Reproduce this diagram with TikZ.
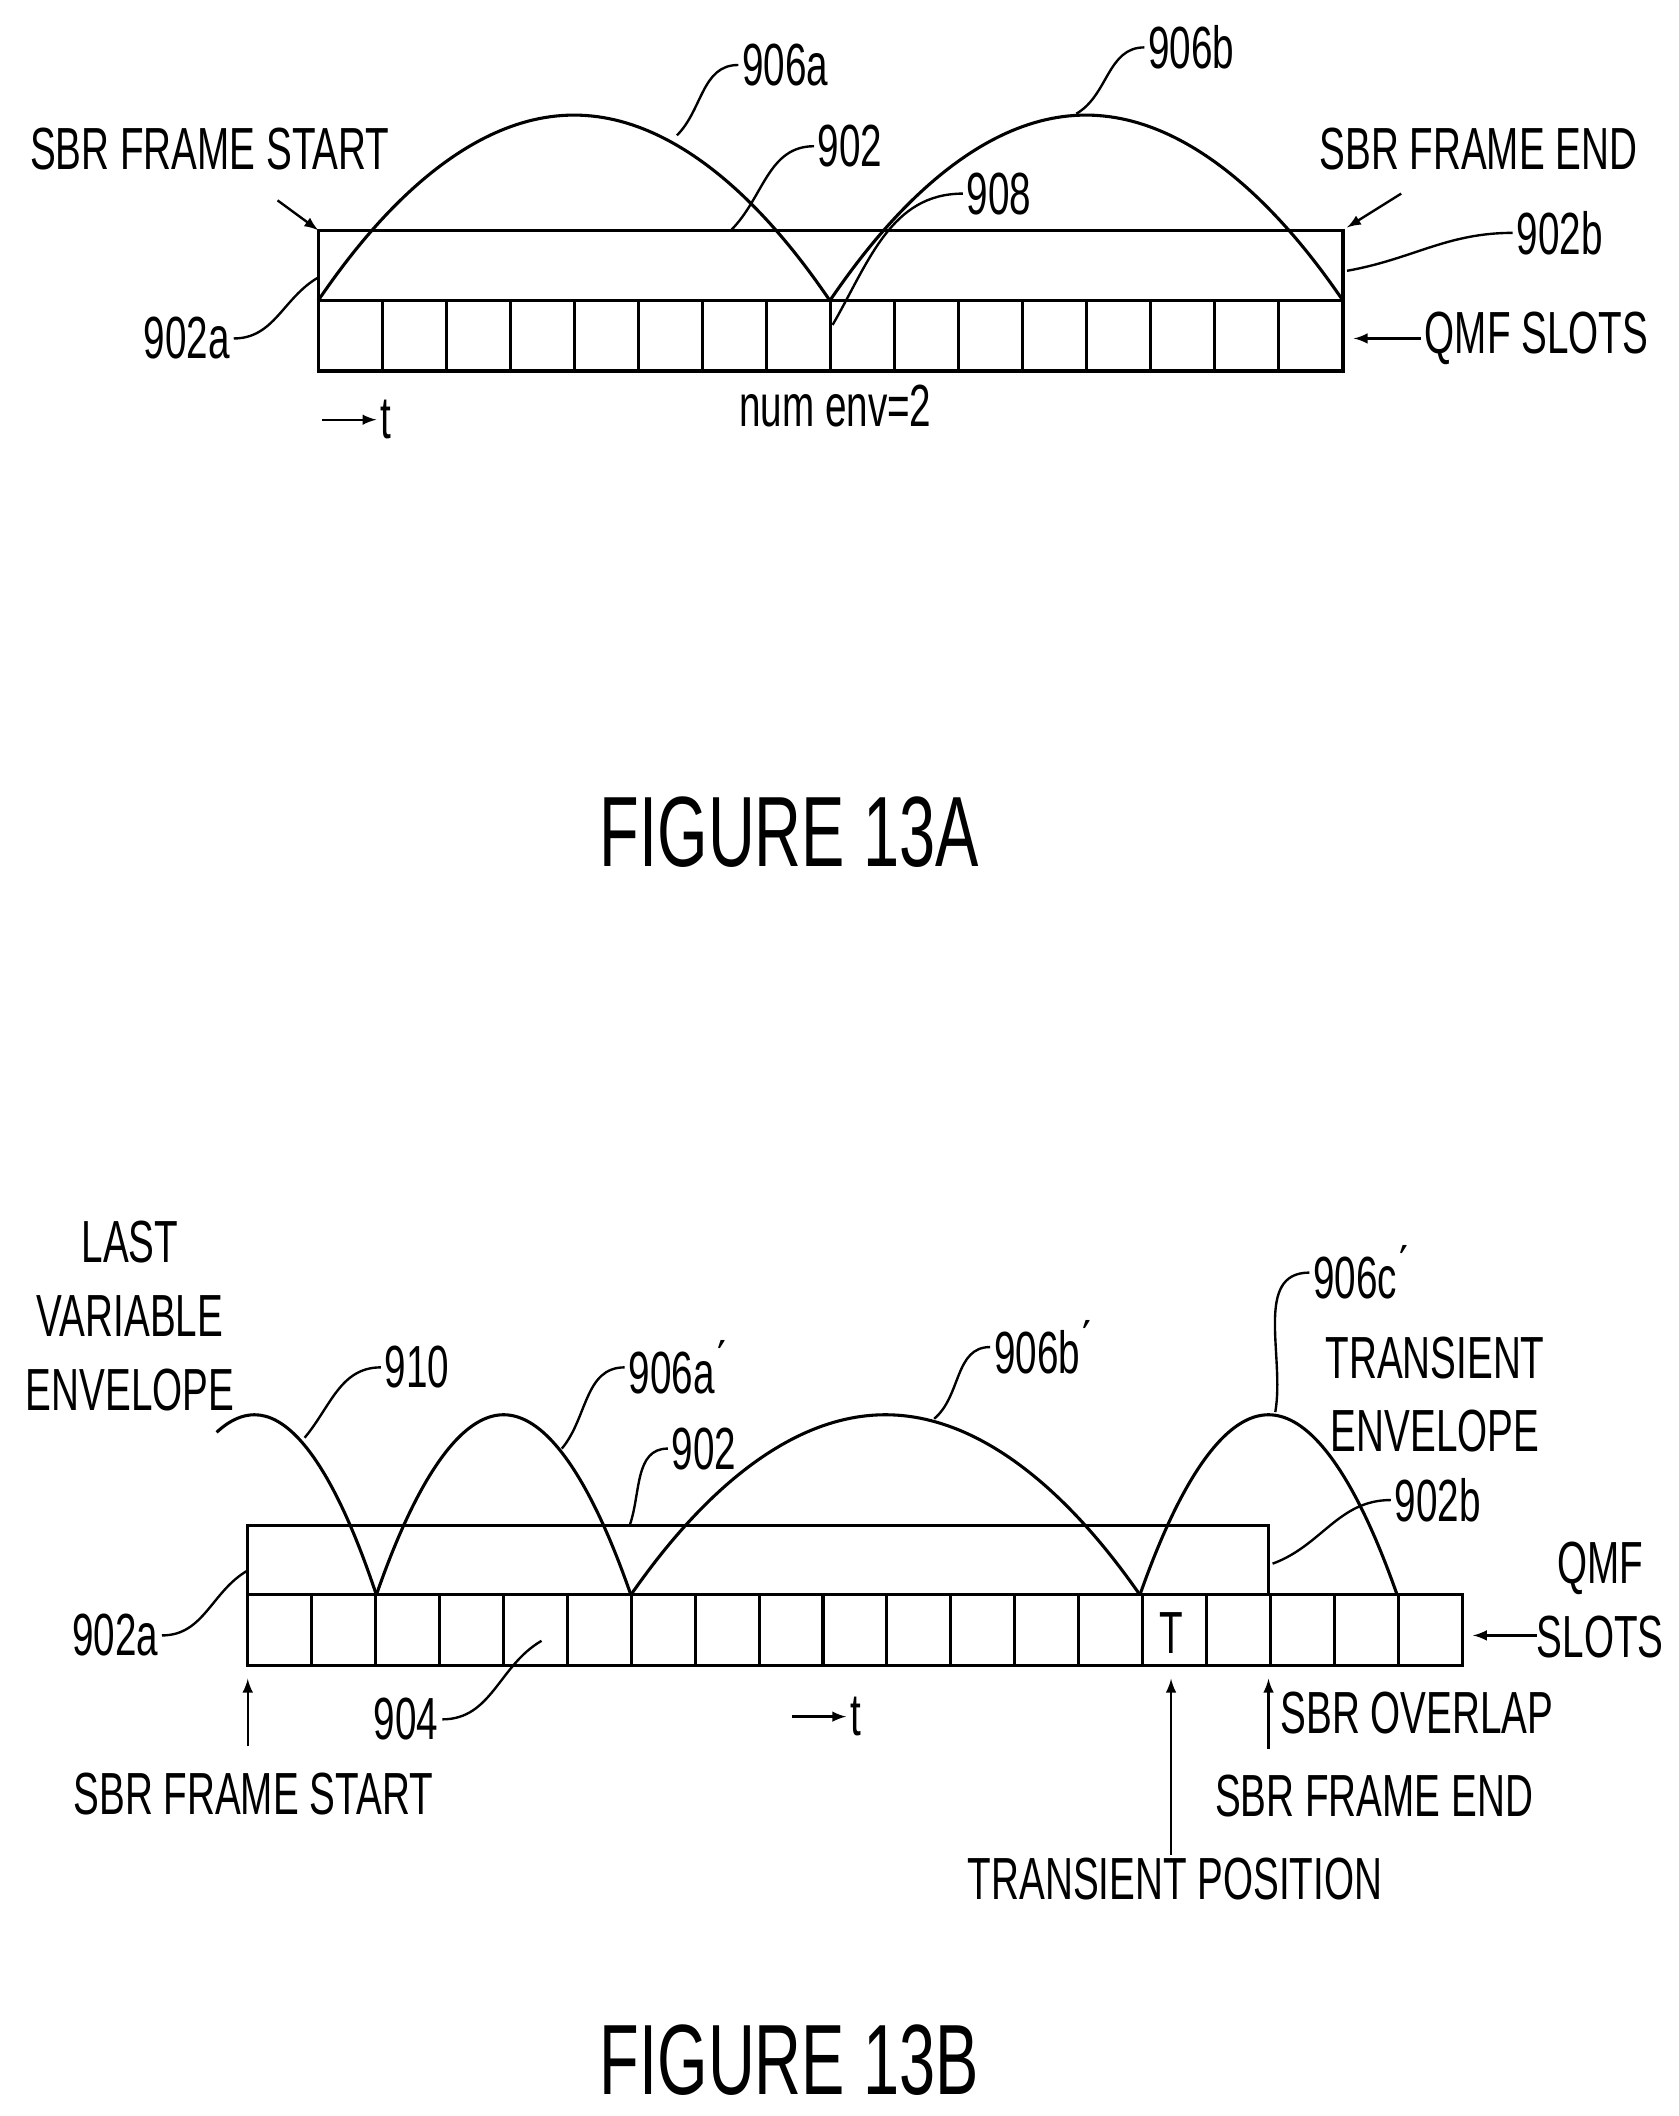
\documentclass[tikz,border=0pt]{standalone}
\usepackage{fontspec}
\setmainfont{Liberation Sans}[FakeStretch=0.65]
\begin{document}
\begin{tikzpicture}[x=0.02cm,y=-0.02cm,line width=1.3pt,
 lbl/.style={font=\fontsize{25}{31}\selectfont,inner sep=1pt,align=center},
 ttl/.style={font=\fontsize{42}{46}\selectfont},
 lead/.style={line width=1pt},
 arr/.style={line width=1pt,-{latex[scale=1.3]}}]
\useasboundingbox (0,0) rectangle (1240,1563);
% ---------- 13A
\draw (235,170) rectangle (992,222);
\draw (235,222) rectangle (992,274);
\foreach \i in {1,...,15} \draw (235+\i*47.3125,222) -- (235+\i*47.3125,274);
\draw (235,222) parabola bend (424,85) (613,222);
\draw (613,222) parabola bend (802,85) (992,222);
\node[lbl] (fs) at (155,110) {SBR FRAME START};
\draw[arr] (205,148) -- (235,170);
\node[lbl] (fe) at (1092,110) {SBR FRAME END};
\draw[arr] (1035,143) -- (995,168);
\node[lbl] (a906a) at (580,48) {906a};
\draw[lead] (a906a.west) to[out=180,in=45] (500,100);
\node[lbl] (a906b) at (880,35) {906b};
\draw[lead] (a906b.west) to[out=180,in=30] (795,84);
\node[lbl] (a902) at (628,108) {902};
\draw[lead] (a902.west) to[out=180,in=45] (540,170);
\node[lbl] (a908) at (738,143) {908};
\draw[lead] (a908.west) to[out=180,in=60] (615,240);
\node[lbl] (a902b) at (1152,172) {902b};
\draw[lead] (a902b.west) to[out=180,in=10] (995,200);
\node[lbl] (a902a) at (138,250) {902a};
\draw[lead] (a902a.east) to[out=0,in=210] (235,205);
\node[lbl] (aq) at (1135,250) {QMF SLOTS};
\draw[arr] (aq.west) -- (1000,250);
\coordinate (at0) at (238,310);
\node[lbl,anchor=west] (at) at (278,310) {t};
\draw[arr] (at0) -- (at.west);
\node[lbl] (ne) at (617,300) {num env=2};
\node[ttl] (t13a) at (583,615) {FIGURE 13A};
% ---------- 13B
\draw (183,1127) rectangle (937,1178);
\draw (183,1178) rectangle (1080,1230);
\foreach \i in {1,...,18} \draw (183+\i*47.21,1178) -- (183+\i*47.21,1230);
\draw (160,1058) parabola bend (188,1045) (278,1178);
\draw (278,1178) parabola bend (372,1045) (466,1178);
\draw (466,1178) parabola bend (654,1045) (842,1178);
\draw (842,1178) parabola bend (937,1045) (1032,1178);
\node[lbl] (lve) at (96,972) {LAST\\VARIABLE\\ENVELOPE};
\node[lbl] (b910) at (308,1010) {910};
\draw[lead] (b910.west) to[out=180,in=50] (225,1062);
\node[lbl] (b906a) at (500,1010) {906a\'{}};
\draw[lead] (b906a.west) to[out=180,in=50] (415,1070);
\node[lbl] (b906b) at (770,995) {906b\'{}};
\draw[lead] (b906b.west) to[out=180,in=40] (690,1048);
\node[lbl] (b906c) at (1005,940) {906c\'{}};
\draw[lead] (b906c.west) to[out=180,in=80] (942,1043);
\node[lbl] (te) at (1060,1030) {TRANSIENT\\ENVELOPE};
\node[lbl] (b902) at (520,1070) {902};
\draw[lead] (b902.west) to[out=180,in=70] (465,1127);
\node[lbl] (b902b) at (1062,1108) {902b};
\draw[lead] (b902b.west) to[out=180,in=20] (940,1155);
\node[lbl] (bq) at (1182,1182) {QMF\\SLOTS};
\coordinate (bqa) at (1135,1208);
\draw[arr] (bqa) -- (1088,1208);
\node[lbl] (b902a) at (85,1208) {902a};
\draw[lead] (b902a.east) to[out=0,in=210] (183,1160);
\node[lbl] (bT) at (865,1206) {T};
\node[lbl] (b904) at (300,1270) {904};
\draw[lead] (b904.east) to[out=0,in=210] (400,1212);
\coordinate (bt0) at (585,1268);
\node[lbl,anchor=west] (bt) at (625,1268) {t};
\draw[arr] (bt0) -- (bt.west);
\node[lbl] (bfs) at (187,1325) {SBR FRAME START};
\draw[arr] (183,1290) -- (183,1240);
\node[lbl,anchor=west] (bov) at (943,1265) {SBR OVERLAP};
\draw[arr] (937,1292) -- (937,1240);
\node[lbl] (bfe) at (1015,1327) {SBR FRAME END};
\node[lbl] (btp) at (868,1388) {TRANSIENT POSITION};
\draw[arr] (865,1370) -- (865,1240);
\node[ttl] (t13b) at (583,1522) {FIGURE 13B};
\end{tikzpicture}
\end{document}
